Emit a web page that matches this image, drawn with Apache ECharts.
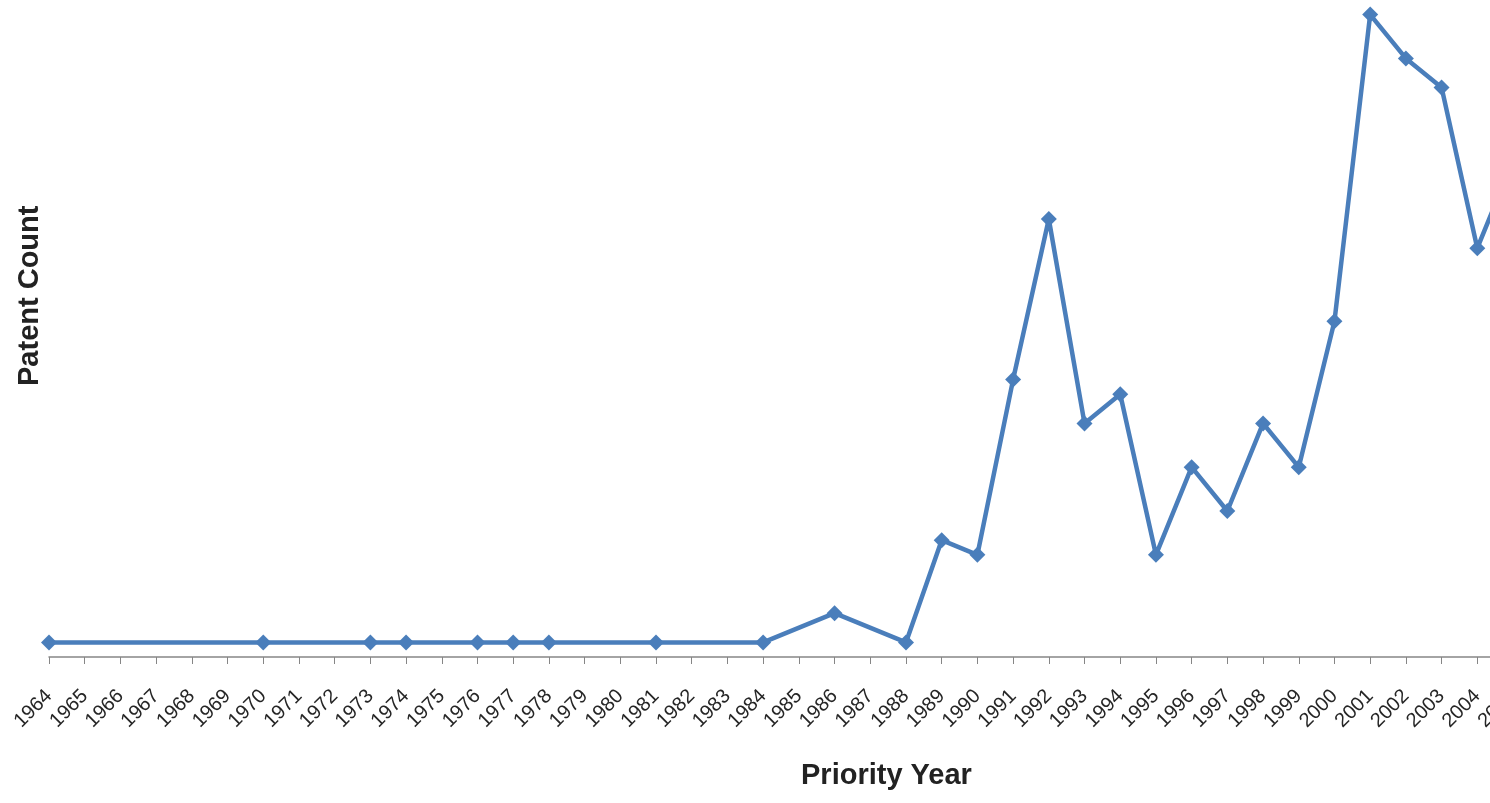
<!DOCTYPE html>
<html>
<head>
<meta charset="utf-8">
<script src="https://cdn.jsdelivr.net/npm/echarts@6/dist/echarts.min.js"></script>
<style>html,body{margin:0;padding:0;background:#fff;}#c{width:1490px;height:803px;}</style>
</head>
<body>
<div id="c"></div>
<script>
var years = [];
for (var y = 1964; y <= 2005; y++) years.push(String(y));
var pointYears = ['1964','1970','1973','1974','1976','1977','1978','1981','1984','1986','1988','1989','1990','1991','1992','1993','1994','1995','1996','1997','1998','1999','2000','2001','2002','2003','2004','2005'];
var pointCounts = [1,1,1,1,1,1,1,1,1,3,1,8,7,19,30,16,18,7,13,10,16,13,23,44,41,39,28,34];
var xTitle = 'Priority Year';
var yTitle = 'Patent Count';

var seriesData = years.map(function (yr) {
  var i = pointYears.indexOf(yr);
  return i >= 0 ? pointCounts[i] : null;
});

var chart = echarts.init(document.getElementById('c'));
chart.setOption({
  animation: false,
  backgroundColor: '#ffffff',
  grid: { left: 49, width: 1464, top: 0, bottom: 146, containLabel: false, outerBoundsMode: 'none' },
  xAxis: {
    type: 'category',
    data: years,
    boundaryGap: false,
    axisLine: { lineStyle: { color: '#868686', width: 1.5 } },
    axisTick: { show: true, alignWithLabel: true, length: 7, lineStyle: { color: '#868686' } },
    axisLabel: { interval: 0, rotate: 45, fontFamily: 'Liberation Sans', fontSize: 20, color: '#262626', margin: 36 }
  },
  yAxis: {
    type: 'value',
    min: 0,
    max: 45,
    axisLine: { show: false },
    axisTick: { show: false },
    axisLabel: { show: false },
    splitLine: { show: false }
  },
  graphic: [
    { type: 'text', x: 801, y: 761, style: { text: xTitle, fontFamily: 'Liberation Sans', fontWeight: 'bold', fontSize: 29, fill: '#222', align: 'left', verticalAlign: 'top' } },
    { type: 'text', rotation: Math.PI / 2, x: 15, y: 386, style: { text: yTitle, fontFamily: 'Liberation Sans', fontWeight: 'bold', fontSize: 29, fill: '#222', align: 'left', verticalAlign: 'top' } }
  ],
  series: [{
    type: 'line',
    data: seriesData,
    connectNulls: true,
    symbol: 'diamond',
    symbolSize: 16,
    clip: false,
    lineStyle: { color: '#4A7EBB', width: 4.5 },
    itemStyle: { color: '#4A7EBB' }
  }]
});
</script>
</body>
</html>
